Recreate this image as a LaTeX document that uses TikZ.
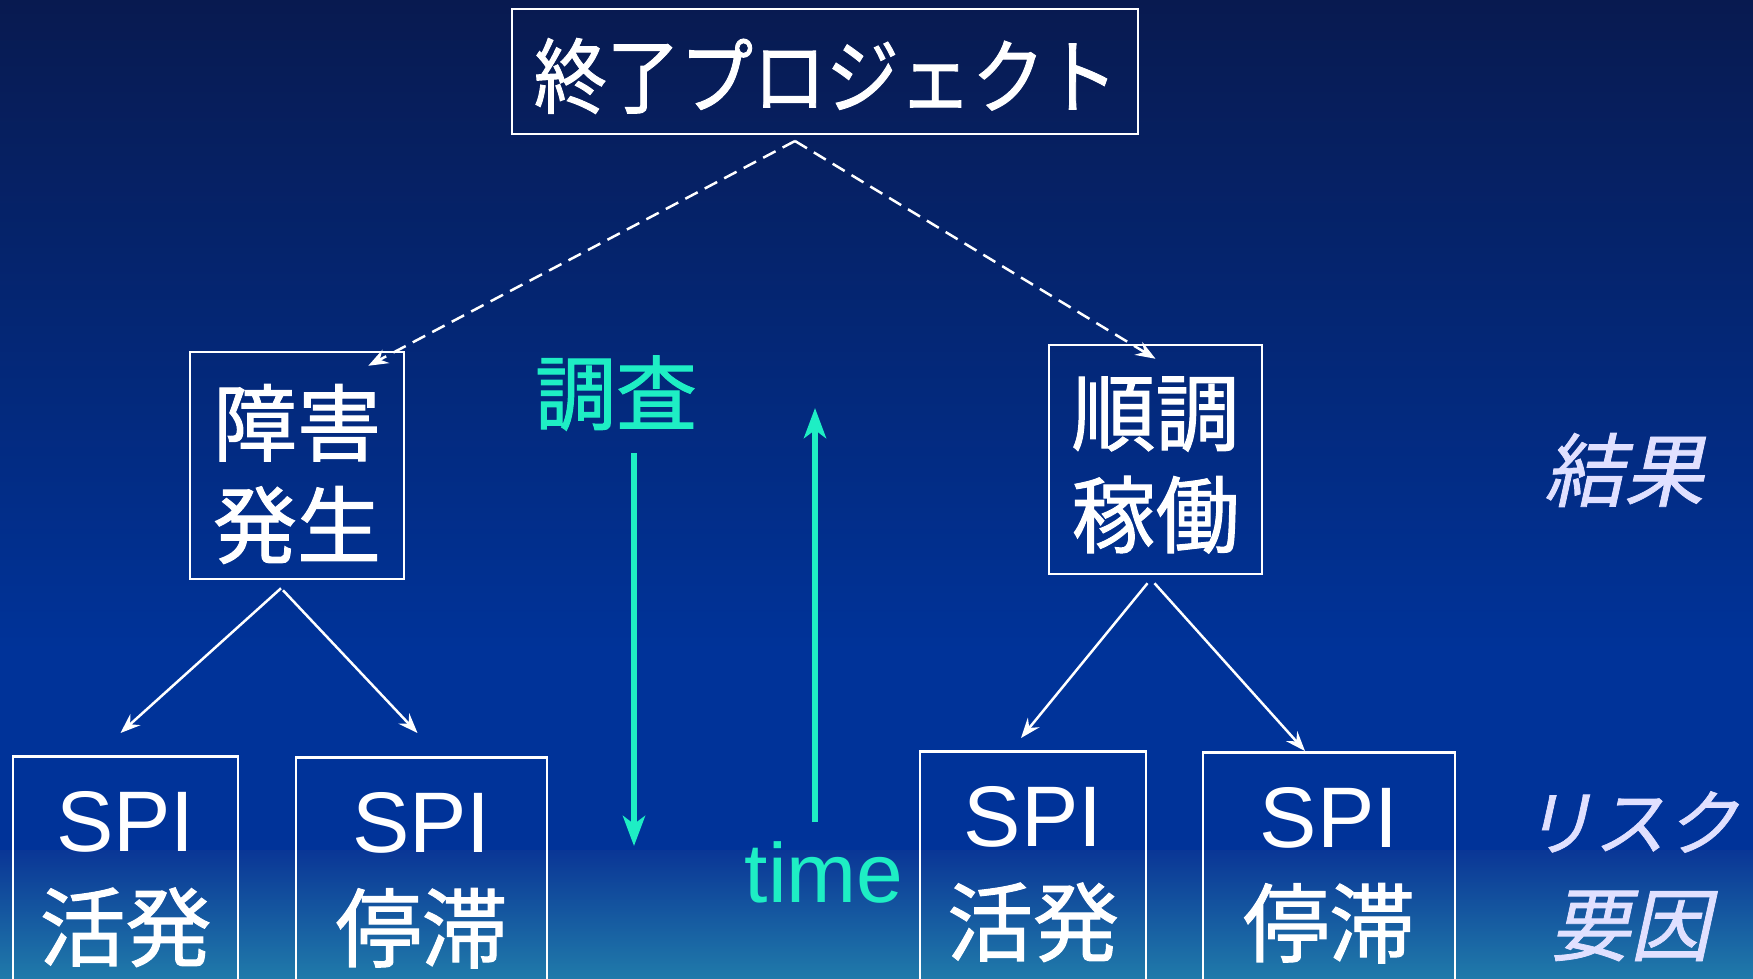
\documentclass[tikz,border=0pt]{standalone}
\usepackage{graphicx}
\usepackage{fontspec}
\setmainfont{Liberation Sans}
\newfontfamily\jp[FakeBold=1.2]{Noto Sans CJK JP}
\newfontfamily\jpit[FakeSlant=0.22,FakeBold=1]{Noto Sans CJK JP}
\usetikzlibrary{arrows.meta,calc}
\definecolor{bgtop}{RGB}{8,26,80}
\definecolor{bgmid}{RGB}{0,51,153}
\definecolor{bgband}{RGB}{10,54,150}
\definecolor{bgbot}{RGB}{32,122,170}
\definecolor{teal}{RGB}{30,238,196}
\definecolor{lav}{RGB}{224,224,255}
\tikzset{
  box/.style={draw=white,line width=2.5pt,rectangle,inner sep=0pt,text=white,align=center},
  wline/.style={draw=white,line width=2.5pt,-{Stealth[length=20pt,width=15pt,inset=7pt]}},
  dline/.style={wline,dash pattern=on 14pt off 8pt},
  tline/.style={draw=teal,line width=6pt,-{Stealth[length=30pt,width=22pt,inset=8pt]}},
}
\begin{document}
\begin{tikzpicture}[x=1pt,y=-1pt]
\useasboundingbox (0,0) rectangle (1753,978);
\clip (0,0) rectangle (1753,978);
\shade[top color=bgtop,bottom color=bgmid] (0,0) rectangle (1753,650);
\fill[bgmid] (0,649) rectangle (1753,851);
\shade[top color=bgband,bottom color=bgbot] (0,850) rectangle (1753,978);

\node[box,minimum width=626pt,minimum height=125pt] (top) at (825,71.5) {};
\node[text=white,inner sep=0pt,font=\jp\fontsize{73}{80}\selectfont] (topt) at (826,76) {\scalebox{1}[1.12]{終了プロジェクト}};
\node[box,minimum width=214pt,minimum height=227pt] (fail) at (297,465.5) {};
\node[text=white,align=center,inner sep=0pt,font=\jp\fontsize{84}{102}\selectfont] (failt) at (297,474) {障害\\発生};
\node[box,minimum width=213pt,minimum height=229pt] (ok) at (1155.5,459.5) {};
\node[text=white,align=center,inner sep=0pt,font=\jp\fontsize{84}{102}\selectfont] (okt) at (1155.5,465) {順調\\稼働};

\node[box,anchor=north,minimum width=225pt,minimum height=246pt,font=\fontsize{86}{108}\selectfont] (b1) at (125.5,755) {SPI\\{\jp 活発}};
\node[box,anchor=north,minimum width=251pt,minimum height=246pt,font=\fontsize{86}{108}\selectfont] (b2) at (421.5,756) {SPI\\{\jp 停滞}};
\node[box,anchor=north,minimum width=226pt,minimum height=246pt,font=\fontsize{86}{108}\selectfont] (b3) at (1033,750) {SPI\\{\jp 活発}};
\node[box,anchor=north,minimum width=252pt,minimum height=246pt,font=\fontsize{86}{108}\selectfont] (b4) at (1329,751) {SPI\\{\jp 停滞}};

\coordinate (apex) at (795,141);
\draw[dline] (apex) -- ($(fail.north east)+(-37,15)$);
\draw[dline] (apex) -- ($(ok.north)+(0,15)$);

\draw[wline] ($(fail.south)+(-16,8)$) -- ($(b1.north)+(-5,-22)$);
\draw[wline] ($(fail.south)+(-14,10)$) -- ($(b2.north)+(-4,-23)$);
\draw[wline] ($(ok.south)+(-8,8)$) -- ($(b3.north)+(-12,-12)$);
\draw[wline] ($(ok.south)+(-1,8)$) -- ($(b4.north)+(-24,0)$);

\node[text=teal,font=\jp\fontsize{81}{90}\selectfont,inner sep=0pt] (chosa) at (616,393) {調査};
\node[text=teal,font=\fontsize{84}{90}\selectfont,inner sep=0pt] (time) at (824,872) {time};
\coordinate (dstart) at (634,453);
\coordinate (dend) at (634,846);
\coordinate (ustart) at (815,822);
\coordinate (uend) at (815,408);
\draw[tline] (dstart) -- (dend);
\draw[tline] (ustart) -- (uend);

\node[text=lav,font=\jpit\fontsize{80}{90}\selectfont,inner sep=0pt] (kekka) at (1624,470) {結果};
\node[text=lav,font=\jpit\fontsize{72}{90}\selectfont,inner sep=0pt] (risk) at (1630,822) {リスク};
\node[text=lav,font=\jpit\fontsize{80}{90}\selectfont,inner sep=0pt] (youin) at (1630,926) {要因};
\end{tikzpicture}
\end{document}
